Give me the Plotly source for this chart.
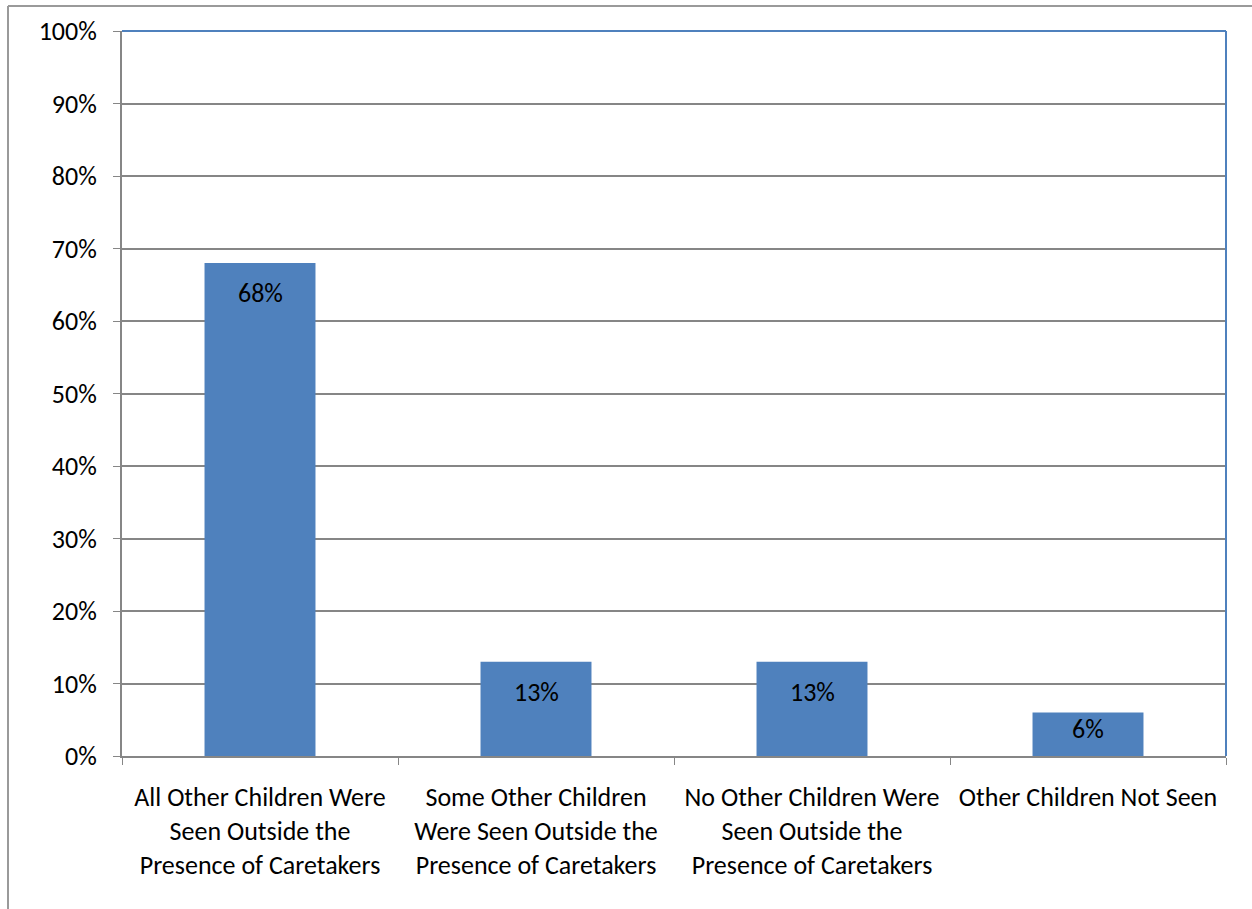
import plotly.graph_objects as go

categories = [
    "All Other Children Were<br>Seen Outside the<br>Presence of Caretakers",
    "Some Other Children<br>Were Seen Outside the<br>Presence of Caretakers",
    "No Other Children Were<br>Seen Outside the<br>Presence of Caretakers",
    "Other Children Not Seen",
]
values = [0.68, 0.13, 0.13, 0.06]
labels = ["68%", "13%", "13%", "6%"]

FONT = "Carlito, Calibri, 'Open Sans', sans-serif"
FS = 26
L, R, T, B = 122, 26, 31, 153
W, H = 1252, 909
pw, ph = W - L - R, H - T - B

fig = go.Figure(go.Bar(
    x=categories, y=values,
    marker=dict(color="#4F81BD", line=dict(width=0)),
))

for c, v, t in zip(categories, values, labels):
    bar_px = v * ph
    shift = min(30, bar_px - 27)
    fig.add_annotation(x=c, y=v, text=t, showarrow=False, yanchor="middle",
                       yshift=-shift, font=dict(size=FS, color="black", family=FONT))

fig.update_layout(
    width=W, height=H,
    margin=dict(l=L, r=R, t=T, b=B, pad=0),
    paper_bgcolor="white", plot_bgcolor="white",
    bargap=0.598, showlegend=False,
    font=dict(family=FONT, size=FS, color="black"),
    xaxis=dict(
        tickson="boundaries", ticks="outside", ticklen=7, tickcolor="#868686",
        showline=True, linecolor="#868686", linewidth=2,
        showgrid=False, tickfont=dict(size=FS), ticklabelstandoff=17,
    ),
    yaxis=dict(
        range=[0, 1], dtick=0.1, tickformat=".0%",
        ticks="outside", ticklen=7, tickcolor="#868686",
        showline=True, linecolor="#868686", linewidth=2,
        showgrid=True, gridcolor="#868686", gridwidth=1.5,
        zeroline=False, tickfont=dict(size=FS), ticklabelstandoff=11,
    ),
)

# blue plot-area border (top & right)
fig.add_shape(type="line", xref="paper", yref="paper", x0=0, x1=1, y0=1, y1=1,
              line=dict(color="#4F81BD", width=2))
fig.add_shape(type="line", xref="paper", yref="paper", x0=1, x1=1, y0=0, y1=1,
              line=dict(color="#4F81BD", width=2))
# outer chart frame (top & left)
fx0 = (8 - L) / pw
fy_top = (H - B - 6) / ph
fy_bot = (H - B - H) / ph
fig.add_shape(type="line", xref="paper", yref="paper", x0=fx0, x1=(W - L) / pw,
              y0=fy_top, y1=fy_top, line=dict(color="#9a9a9a", width=2))
fig.add_shape(type="line", xref="paper", yref="paper", x0=fx0, x1=fx0,
              y0=fy_bot, y1=fy_top, line=dict(color="#9a9a9a", width=2))

fig.write_html("out.html")
